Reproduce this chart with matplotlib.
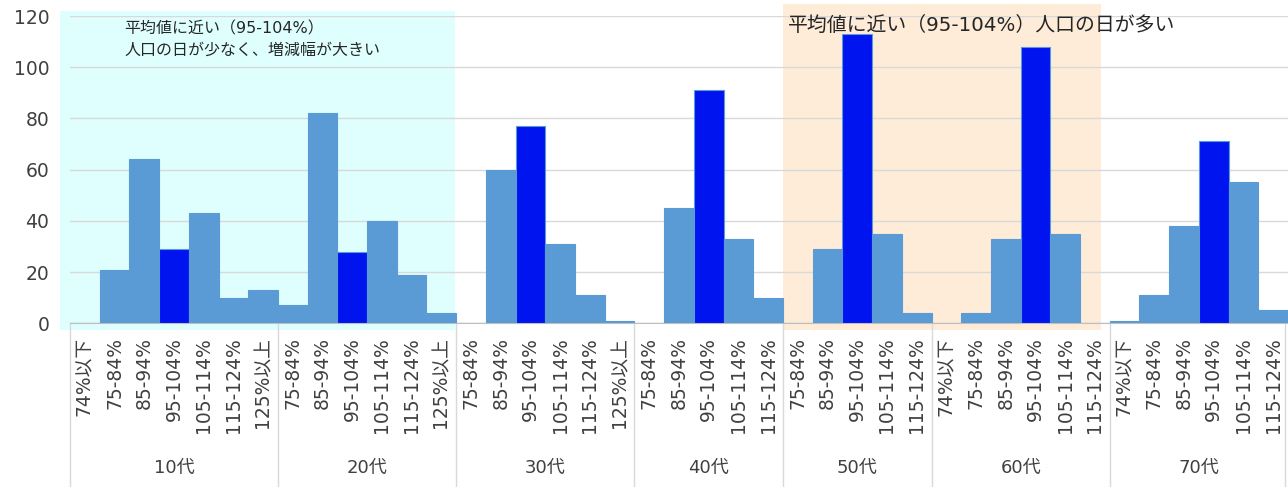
import matplotlib.pyplot as plt
from matplotlib.patches import Rectangle
from matplotlib.transforms import blended_transform_factory

# 年代別・人口比率階級ごとの日数
age_groups = ['10代', '20代', '30代', '40代', '50代', '60代', '70代']
bin_labels = [
    ['74%以下', '75-84%', '85-94%', '95-104%', '105-114%', '115-124%', '125%以上'],
    ['75-84%', '85-94%', '95-104%', '105-114%', '115-124%', '125%以上'],
    ['75-84%', '85-94%', '95-104%', '105-114%', '115-124%', '125%以上'],
    ['75-84%', '85-94%', '95-104%', '105-114%', '115-124%'],
    ['75-84%', '85-94%', '95-104%', '105-114%', '115-124%'],
    ['74%以下', '75-84%', '85-94%', '95-104%', '105-114%', '115-124%'],
    ['74%以下', '75-84%', '85-94%', '95-104%', '105-114%', '115-124%'],
]
day_counts = [
    [0, 21, 64, 29, 43, 10, 13],
    [7, 82, 28, 40, 19, 4],
    [0, 60, 77, 31, 11, 1],
    [0, 45, 91, 33, 10],
    [0, 29, 113, 35, 4],
    [0, 4, 33, 108, 35, 0],
    [1, 11, 38, 71, 55, 5],
]
near_average = '95-104%'

plt.rcParams['font.family'] = ['DejaVu Sans', 'Noto Sans CJK JP']

W, H = 1288, 487
fig = plt.figure(figsize=(W / 100, H / 100), dpi=100)
ax = fig.add_axes([70 / W, (H - 323.3) / H, 1 - 70 / W, 307.3 / H])

# 棒の位置と色を並べる
xs, heights, colors, labels = [], [], [], []
edges = [-0.5]
centers = []
pos = 0
for labs, vals in zip(bin_labels, day_counts):
    start = pos
    for lab, v in zip(labs, vals):
        xs.append(pos)
        heights.append(v)
        labels.append(lab)
        colors.append('#0014F0' if lab == near_average else '#5B9BD5')
        pos += 1
    centers.append((start + pos - 1) / 2)
    edges.append(pos - 0.5)

ax.bar(xs, heights, width=1.0, color=colors, edgecolor='#5B9BD5', linewidth=0.8, zorder=3)

ax.set_xlim(-0.5, pos - 0.5)
ax.set_ylim(0, 120)
ax.set_yticks(range(0, 121, 20))
ax.set_axisbelow(True)
ax.grid(axis='y', color='#D9D9D9', linewidth=1)
for side in ['top', 'right', 'left']:
    ax.spines[side].set_visible(False)
ax.spines['bottom'].set_color('#BFBFBF')
ax.tick_params(axis='y', length=0, pad=15, labelsize=13.5, labelcolor='#404040')
ax.set_xticks(xs, labels, rotation=90)
ax.tick_params(axis='x', length=0, pad=10, labelsize=13.5, labelcolor='#404040')

# 背景の強調枠
ax.add_patch(Rectangle((-0.84, -2.6), 13.3, 124.6, facecolor='#DFFFFF',
                       edgecolor='none', zorder=0, clip_on=False))
ax.add_patch(Rectangle((23.5, -2.6), 10.7, 127.3, facecolor='#FEECD9',
                       edgecolor='none', zorder=0, clip_on=False))

ax.text(1.32, 110.8, '平均値に近い（95-104%）\n人口の日が少なく、増減幅が大きい',
        fontsize=11.5, va='center', ha='left', linespacing=1.5,
        color='#262626', zorder=4)
ax.text(23.67, 116.2, '平均値に近い（95-104%）人口の日が多い',
        fontsize=14.3, va='center', ha='left',
        color='#262626', zorder=4)

# 年代の区切り線とラベル
trans = blended_transform_factory(ax.transData, fig.transFigure)
bottom = (H - 323.3) / H
for e in edges:
    e = min(e, pos - 0.6)
    ax.plot([e, e], [0, bottom], transform=trans, color='#D9D9D9',
            linewidth=1, clip_on=False)
for c, g in zip(centers, age_groups):
    ax.text(c, (H - 468) / H, g, transform=trans, ha='center', va='center',
            fontsize=13, color='#404040')

fig.savefig('out.png', dpi=100)
